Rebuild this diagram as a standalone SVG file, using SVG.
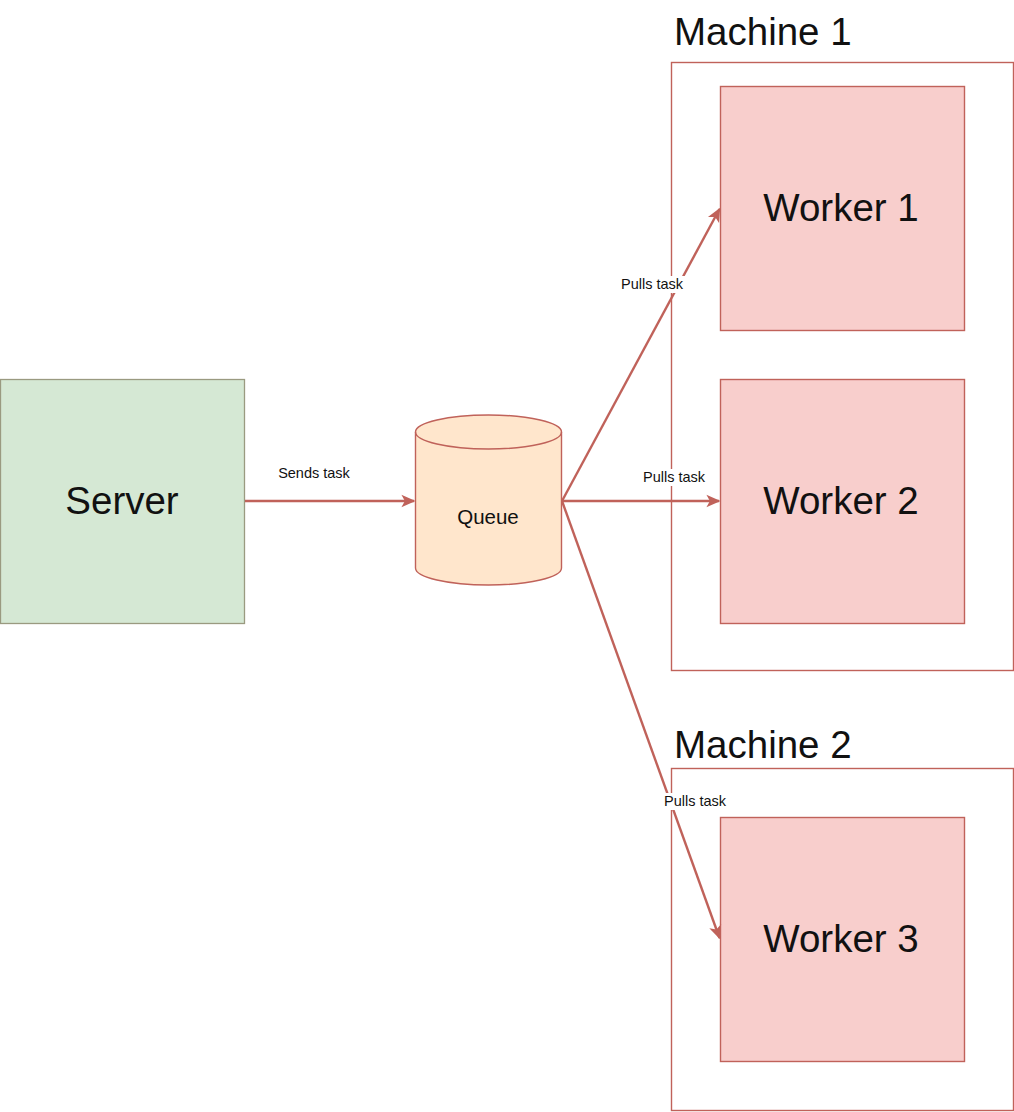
<svg xmlns="http://www.w3.org/2000/svg" width="1014" height="1112" viewBox="0 0 1014 1112">
<style>
text{font-family:"Liberation Sans",Arial,sans-serif;fill:#111}
.big{font-size:38.5px}
.lbl{font-size:14.5px}
.worker{fill:#f8cecc;stroke:#c0625a;stroke-width:1.4}
.machine{fill:#fff;stroke:#c0625a;stroke-width:1.4}
.edge{stroke:#c0625a;stroke-width:2.4;fill:none}
.lblbg{fill:#fff}
</style>
<defs>
<marker id="arr" viewBox="0 0 10 10" refX="9" refY="5" markerWidth="14" markerHeight="14" orient="auto" markerUnits="userSpaceOnUse">
<path d="M0,0.5 L10,5 L0,9.5 L2.5,5 Z" fill="#c0625a"/>
</marker>
</defs>
<g id="machine1">
<rect class="machine" x="671.5" y="62.5" width="342" height="608"/>
<text class="big" x="674" y="45">Machine 1</text>
</g>
<g id="machine2">
<rect class="machine" x="671.5" y="768.5" width="342" height="342"/>
<text class="big" x="674" y="758">Machine 2</text>
</g>
<g id="server">
<rect x="0.5" y="379.5" width="244" height="244" fill="#d5e8d4" stroke="#9a9a80" stroke-width="1.3"/>
<text class="big" x="122" y="514" text-anchor="middle">Server</text>
</g>
<g id="queue">
<path d="M415.5,432 L415.5,568 A73,17 0 0 0 561.5,568 L561.5,432 A73,17 0 0 0 415.5,432 Z" fill="#ffe6cc" stroke="#c0625a" stroke-width="1.4"/>
<path d="M415.5,432 A73,17 0 0 0 561.5,432" fill="none" stroke="#c0625a" stroke-width="1.4"/>
<text x="488" y="524" text-anchor="middle" font-size="20.5">Queue</text>
</g>
<g id="worker1">
<rect class="worker" x="720.5" y="86.5" width="244" height="244"/>
<text class="big" x="841" y="221" text-anchor="middle">Worker 1</text>
</g>
<g id="worker2">
<rect class="worker" x="720.5" y="379.5" width="244" height="244"/>
<text class="big" x="841" y="514" text-anchor="middle">Worker 2</text>
</g>
<g id="worker3">
<rect class="worker" x="720.5" y="817.5" width="244" height="244"/>
<text class="big" x="841" y="952" text-anchor="middle">Worker 3</text>
</g>
<g id="connectors">
<line class="edge" x1="245" y1="501" x2="414" y2="501" marker-end="url(#arr)"/>
<line class="edge" x1="562" y1="501" x2="719.5" y2="209" marker-end="url(#arr)"/>
<line class="edge" x1="562" y1="501" x2="719" y2="501" marker-end="url(#arr)"/>
<line class="edge" x1="562" y1="501" x2="719.5" y2="938" marker-end="url(#arr)"/>
<text class="lbl" x="314" y="478" text-anchor="middle">Sends task</text>
<rect class="lblbg" x="619" y="276" width="67" height="17"/>
<text class="lbl" x="652" y="289" text-anchor="middle">Pulls task</text>
<rect class="lblbg" x="641" y="469" width="67" height="17"/>
<text class="lbl" x="674" y="482" text-anchor="middle">Pulls task</text>
<rect class="lblbg" x="662" y="793" width="67" height="17"/>
<text class="lbl" x="695" y="806" text-anchor="middle">Pulls task</text>
</g>
</svg>
